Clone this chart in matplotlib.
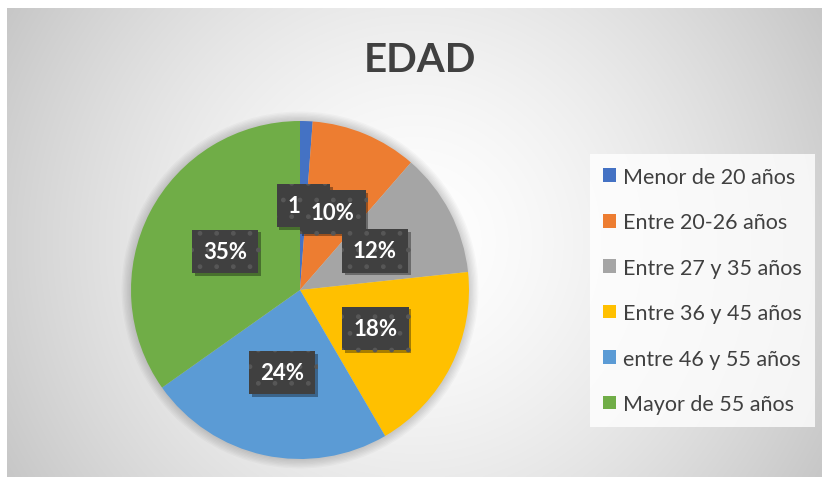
import numpy as np
import matplotlib
matplotlib.use('Agg')
import matplotlib.pyplot as plt
from matplotlib.patches import Patch, Circle
import matplotlib.patheffects as pe

categories = ["Menor de 20 años", "Entre 20-26 años", "Entre 27 y 35 años",
              "Entre 36 y 45 años", "entre 46 y 55 años", "Mayor de 55 años"]
values = [1.2, 10.2, 11.9, 18.3, 23.6, 34.8]
label_texts = ["1%", "10%", "12%", "18%", "24%", "35%"]
colors = ["#4472C4", "#ED7D31", "#A5A5A5", "#FFC000", "#5B9BD5", "#70AD47"]
title = "EDAD"

W, H = 822, 485
fig = plt.figure(figsize=(W / 100, H / 100), dpi=100, facecolor='white')

# background radial gradient
bg = fig.add_axes([0, 0, 1, 1], zorder=0)
bg.axis('off')
x0, x1, y0, y1 = 7, W, 9, 478
xs = np.linspace(x0, x1, 400)
ys = np.linspace(y0, y1, 240)
X, Y = np.meshgrid(xs, ys)
cx, cy = (x0 + x1) / 2, (y0 + y1) / 2
R = np.hypot(x1 - cx, y1 - cy)
t = np.clip(np.hypot(X - cx, Y - cy) / R, 0, 1)
v = 1 - 0.22 * t ** 1.5
img = np.dstack([v, v, v])
bg.imshow(img, extent=(x0, x1, y1, y0), aspect='auto', interpolation='bilinear')
bg.set_xlim(0, W)
bg.set_ylim(H, 0)

# pie
cxp, cyp, r = 300, 291, 169
ax = fig.add_axes([(cxp - r) / W, (H - cyp - r) / H, 2 * r / W, 2 * r / H], zorder=1)
wedges, _ = ax.pie(values, colors=colors, startangle=90, counterclock=False,
                   radius=1, wedgeprops=dict(linewidth=0))
ax.set_xlim(-1, 1)
ax.set_ylim(-1, 1)

# soft glow around pie
for k in range(1, 8):
    ax.add_patch(Circle((0, 0), 1 + 0.008 * k, facecolor='black', alpha=0.025,
                        edgecolor='none', zorder=0, clip_on=False))
for w in wedges:
    w.set_zorder(2)

for i, w in enumerate(wedges):
    ang = np.deg2rad((w.theta1 + w.theta2) / 2)
    x, y = 0.5 * np.cos(ang), 0.5 * np.sin(ang)
    txt = ax.text(x, y, label_texts[i], ha='center', va='center', color='white',
                  fontsize=16, fontweight='bold', family='Lato', zorder=5 + i,
                  bbox=dict(boxstyle='square,pad=0.5', facecolor='#404040',
                            edgecolor='#575757', linewidth=0, hatch='.'))
    txt.get_bbox_patch().set_path_effects([
        pe.SimplePatchShadow(offset=(2, -2), alpha=0.35, shadow_rgbFace='black'),
        pe.Normal()])

# legend
handles = [Patch(facecolor=c, edgecolor='none') for c in colors]
leg = fig.legend(handles, categories, loc='upper left',
                 bbox_to_anchor=(590 / W, 1 - 155 / H), frameon=True,
                 prop=dict(family='Lato', size=15.5), labelcolor='#404040',
                 handlelength=0.6, handleheight=0.6, handletextpad=0.33,
                 labelspacing=1.18, borderpad=0.6, borderaxespad=0,
                 fancybox=False)
fr = leg.get_frame()
fr.set_facecolor((1, 1, 1, 0.35))
fr.set_edgecolor('none')
fr.set_linewidth(0)

fig.text(420 / W, 1 - 60 / H, title, ha='center', va='center', fontsize=29,
         fontweight='bold', family='Lato', color='#404040', zorder=3)

fig.savefig('out.png', dpi=100, facecolor='white')
